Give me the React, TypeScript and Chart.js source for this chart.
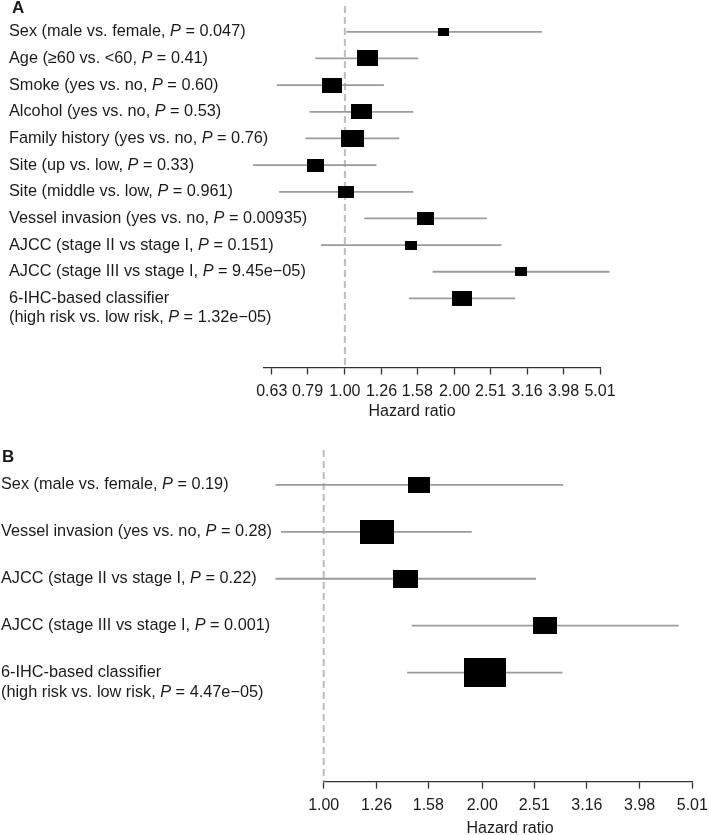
import React, { useEffect, useRef } from "react";
import { Chart, registerables } from "chart.js";

Chart.register(...registerables);

// ---------- Data ----------
const catA = [
  "Sex (male vs. female",
  "Age (≥60 vs. <60",
  "Smoke (yes vs. no",
  "Alcohol (yes vs. no",
  "Family history (yes vs. no",
  "Site (up vs. low",
  "Site (middle vs. low",
  "Vessel invasion (yes vs. no",
  "AJCC (stage II vs stage I",
  "AJCC (stage III vs stage I",
  "6-IHC-based classifier\n(high risk vs. low risk",
];
const pA = ["0.047", "0.41", "0.60", "0.53", "0.76", "0.33", "0.961", "0.00935", "0.151", "9.45e−05", "1.32e−05"];
const hrA = [1.87, 1.15, 0.92, 1.11, 1.05, 0.83, 1.01, 1.66, 1.52, 3.04, 2.09];
const loA = [1.01, 0.83, 0.65, 0.8, 0.78, 0.56, 0.66, 1.13, 0.86, 1.74, 1.5];
const hiA = [3.47, 1.59, 1.28, 1.54, 1.41, 1.22, 1.54, 2.45, 2.69, 5.32, 2.93];
const ticksA = ["0.63", "0.79", "1.00", "1.26", "1.58", "2.00", "2.51", "3.16", "3.98", "5.01"];

const catB = [
  "Sex (male vs. female",
  "Vessel invasion (yes vs. no",
  "AJCC (stage II vs stage I",
  "AJCC (stage III vs stage I",
  "6-IHC-based classifier\n(high risk vs. low risk",
];
const pB = ["0.19", "0.28", "0.22", "0.001", "4.47e−05"];
const hrB = [1.52, 1.26, 1.43, 2.63, 2.02];
const loB = [0.81, 0.83, 0.81, 1.47, 1.44];
const hiB = [2.85, 1.91, 2.53, 4.72, 2.84];
const ticksB = ["1.00", "1.26", "1.58", "2.00", "2.51", "3.16", "3.98", "5.01"];

const xTitle = "Hazard ratio";

// ---------- Styles ----------
const FONT = '"Liberation Sans", Arial, Helvetica, sans-serif';
const TEXT = "#1a1a1a";
const CI_COLOR = "#9b9b9b";
const REF_COLOR = "#bdbdbd";
const AXIS_COLOR = "#333333";
const LABEL_SIZE = 16.3;

type PanelCfg = {
  letter: string;
  names: string[];
  pvals: string[];
  hr: number[];
  lo: number[];
  hi: number[];
  ticks: string[];
  width: number;
  height: number;
  padding: { left: number; right: number; top: number; bottom: number };
  yMin: number;
  yMax: number;
  boxK: number;
  boxAspect: number;
  labelX: number;
  lineGap: number;
  letterX: number;
  letterY: number;
  titleShift: number;
  titleOffset: number;
};

function makeBox(w: number, h: number): HTMLCanvasElement {
  const c = document.createElement("canvas");
  c.width = Math.max(1, Math.round(w));
  c.height = Math.max(1, Math.round(h));
  const g = c.getContext("2d")!;
  g.fillStyle = "#000";
  g.fillRect(0, 0, c.width, c.height);
  return c;
}

function buildChart(canvas: HTMLCanvasElement, p: PanelCfg) {
  const tickVals = p.ticks.map((t) => parseFloat(t));
  const boxes = p.hr.map((_, i) => {
    const w = p.boxK / (Math.log10(p.hi[i]) - Math.log10(p.lo[i]));
    return makeBox(w, w * p.boxAspect);
  });

  const ciSets = p.hr.map((_, i) => ({
    data: [
      { x: p.lo[i], y: i },
      { x: p.hi[i], y: i },
    ],
    showLine: true,
    borderColor: CI_COLOR,
    borderWidth: 1.8,
    pointRadius: 0,
    clip: false as any,
    order: 1,
  }));

  const refLine = {
    data: [
      { x: 1, y: p.yMin },
      { x: 1, y: p.yMax },
    ],
    showLine: true,
    borderColor: REF_COLOR,
    borderWidth: 2,
    borderDash: [7, 4],
    pointRadius: 0,
    clip: false as any,
    order: 2,
  };

  const boxSet = {
    data: p.hr.map((v, i) => ({ x: v, y: i })),
    showLine: false,
    pointRadius: 5,
    pointStyle: (ctx: any) => boxes[ctx.dataIndex] || "rect",
    backgroundColor: "#000",
    borderColor: "#000",
    clip: false as any,
    order: 0,
  };

  const labelPlugin = {
    id: "rowLabels" + p.letter,
    afterDraw(chart: any) {
      const ctx = chart.ctx as CanvasRenderingContext2D;
      const ys = chart.scales.y;
      const xs = chart.scales.x;
      ctx.save();
      ctx.fillStyle = TEXT;
      ctx.textBaseline = "middle";
      ctx.textAlign = "left";
      p.names.forEach((name, i) => {
        const yp = ys.getPixelForValue(i);
        const lines = name.split("\n");
        lines.forEach((ln, j) => {
          let xx = p.labelX;
          const yy = yp + j * p.lineGap;
          const segs: [string, boolean][] =
            j === lines.length - 1
              ? [
                  [ln + ", ", false],
                  ["P", true],
                  [" = " + p.pvals[i] + ")", false],
                ]
              : [[ln, false]];
          segs.forEach(([t, it]) => {
            ctx.font = `${it ? "italic " : ""}${LABEL_SIZE}px ${FONT}`;
            ctx.fillText(t, xx, yy);
            xx += ctx.measureText(t).width;
          });
        });
      });
      ctx.font = `bold 17px ${FONT}`;
      ctx.fillText(p.letter, p.letterX, p.letterY);
      ctx.font = `16px ${FONT}`;
      ctx.textAlign = "center";
      ctx.fillText(xTitle, (xs.left + xs.right) / 2 + p.titleShift, chart.chartArea.bottom + p.titleOffset);
      ctx.restore();
    },
  };

  return new Chart(canvas, {
    type: "scatter",
    data: { datasets: [boxSet, ...ciSets, refLine] as any },
    options: {
      responsive: false,
      animation: false,
      events: [],
      layout: { padding: p.padding },
      plugins: { legend: { display: false }, tooltip: { enabled: false } },
      scales: {
        x: {
          type: "logarithmic",
          min: tickVals[0],
          max: tickVals[tickVals.length - 1],
          afterBuildTicks: (axis: any) => {
            axis.ticks = tickVals.map((v) => ({ value: v }));
          },
          afterFit: (axis: any) => {
            axis.paddingLeft = 0;
            axis.paddingRight = 0;
          },
          ticks: {
            autoSkip: false,
            maxRotation: 0,
            minRotation: 0,
            padding: 7.5,
            color: TEXT,
            font: { family: FONT, size: 16 },
            callback: (_v: any, i: number) => p.ticks[i],
          },
          grid: {
            display: true,
            drawOnChartArea: false,
            drawTicks: true,
            tickLength: 7,
            tickColor: AXIS_COLOR,
            tickWidth: 1.3,
          },
          border: { display: true, color: AXIS_COLOR, width: 1.3 },
        },
        y: {
          type: "linear",
          display: false,
          reverse: true,
          min: p.yMin,
          max: p.yMax,
        },
      },
    },
    plugins: [labelPlugin],
  } as any);
}

const panelA: PanelCfg = {
  letter: "A",
  names: catA,
  pvals: pA,
  hr: hrA,
  lo: loA,
  hi: hiA,
  ticks: ticksA,
  width: 709,
  height: 430,
  padding: { left: 264, right: 109, top: 3, bottom: 21.3 },
  yMin: -0.967,
  yMax: 12.59,
  boxK: 5.85,
  boxAspect: 0.75,
  labelX: 9,
  lineGap: 19,
  letterX: 12,
  letterY: 8,
  titleShift: -20,
  titleOffset: 44.5,
};

const panelB: PanelCfg = {
  letter: "B",
  names: catB,
  pvals: pB,
  hr: hrB,
  lo: loB,
  hi: hiB,
  ticks: ticksB,
  width: 709,
  height: 405,
  padding: { left: 323.7, right: 16.7, top: 20, bottom: 12.2 },
  yMin: -0.745,
  yMax: 6.325,
  boxK: 12.25,
  boxAspect: 0.71,
  labelX: 1,
  lineGap: 20,
  letterX: 2,
  letterY: 27,
  titleShift: 2,
  titleOffset: 46.5,
};

function Panel({ cfg, top }: { cfg: PanelCfg; top: number }) {
  const ref = useRef<HTMLCanvasElement | null>(null);
  useEffect(() => {
    if (!ref.current) return;
    const chart = buildChart(ref.current, cfg);
    return () => chart.destroy();
  }, [cfg]);
  return (
    <canvas
      ref={ref}
      width={cfg.width}
      height={cfg.height}
      style={{ position: "absolute", left: 0, top, width: cfg.width, height: cfg.height }}
    />
  );
}

export default function App() {
  return (
    <div style={{ position: "absolute", left: 0, top: 0, width: 709, height: 835, background: "#fff", overflow: "hidden" }}>
      <Panel cfg={panelA} top={0} />
      <Panel cfg={panelB} top={430} />
    </div>
  );
}
